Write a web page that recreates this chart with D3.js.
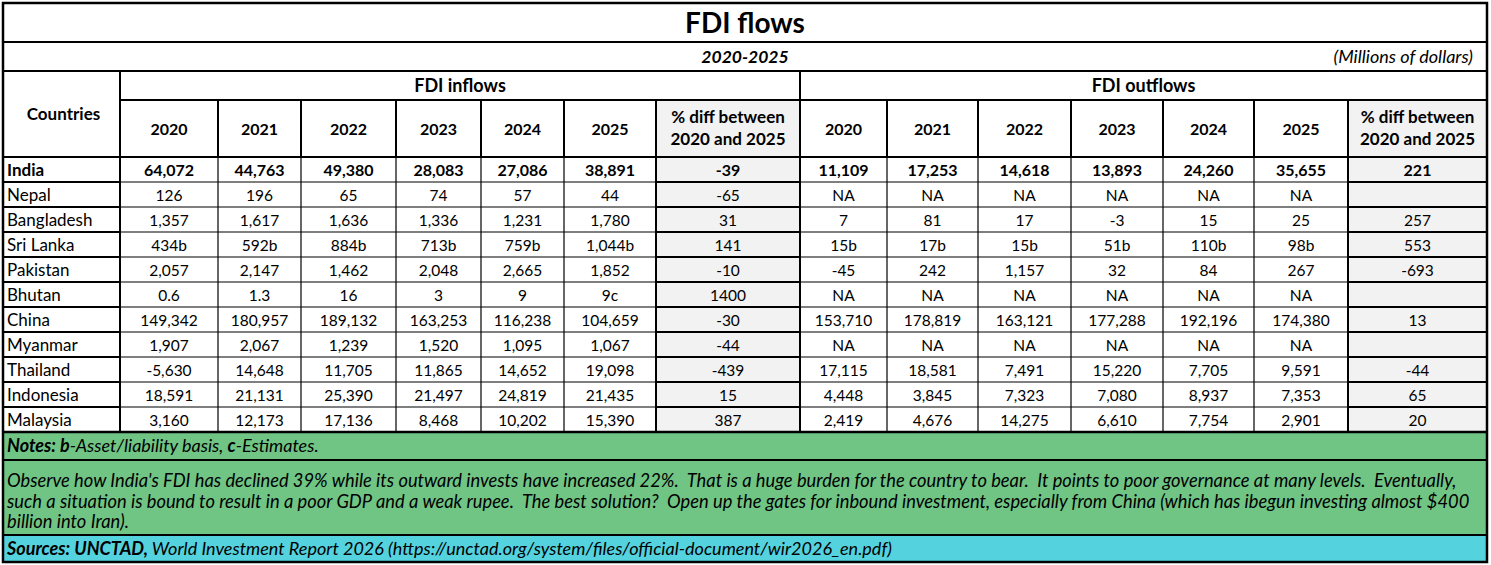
<!DOCTYPE html>
<html>
<head>
<meta charset="utf-8">
<script src="https://cdn.jsdelivr.net/npm/d3@7"></script>
<style>
  body { margin: 0; background: #fff; }
  text { white-space: pre; }
</style>
</head>
<body>
<div id="table"></div>
<script>
// data
const title = "FDI flows"
const period = "2020-2025"
const units = "(Millions of dollars)"
const years = ["2020", "2021", "2022", "2023", "2024", "2025"]
const diffLabel = ["% diff between", "2020 and 2025"]
const countries = ["India", "Nepal", "Bangladesh", "Sri Lanka", "Pakistan", "Bhutan", "China", "Myanmar", "Thailand", "Indonesia", "Malaysia"]

const inflows = [
    ["64,072", "44,763", "49,380", "28,083", "27,086", "38,891"],
    ["126", "196", "65", "74", "57", "44"],
    ["1,357", "1,617", "1,636", "1,336", "1,231", "1,780"],
    ["434b", "592b", "884b", "713b", "759b", "1,044b"],
    ["2,057", "2,147", "1,462", "2,048", "2,665", "1,852"],
    ["0.6", "1.3", "16", "3", "9", "9c"],
    ["149,342", "180,957", "189,132", "163,253", "116,238", "104,659"],
    ["1,907", "2,067", "1,239", "1,520", "1,095", "1,067"],
    ["-5,630", "14,648", "11,705", "11,865", "14,652", "19,098"],
    ["18,591", "21,131", "25,390", "21,497", "24,819", "21,435"],
    ["3,160", "12,173", "17,136", "8,468", "10,202", "15,390"]
]
const inflowDiff = ["-39", "-65", "31", "141", "-10", "1400", "-30", "-44", "-439", "15", "387"]

const outflows = [
    ["11,109", "17,253", "14,618", "13,893", "24,260", "35,655"],
    ["NA", "NA", "NA", "NA", "NA", "NA"],
    ["7", "81", "17", "-3", "15", "25"],
    ["15b", "17b", "15b", "51b", "110b", "98b"],
    ["-45", "242", "1,157", "32", "84", "267"],
    ["NA", "NA", "NA", "NA", "NA", "NA"],
    ["153,710", "178,819", "163,121", "177,288", "192,196", "174,380"],
    ["NA", "NA", "NA", "NA", "NA", "NA"],
    ["17,115", "18,581", "7,491", "15,220", "7,705", "9,591"],
    ["4,448", "3,845", "7,323", "7,080", "8,937", "7,353"],
    ["2,419", "4,676", "14,275", "6,610", "7,754", "2,901"]
]
const outflowDiff = ["221", "", "257", "553", "-693", "", "13", "", "-44", "65", "20"]

const notes = [
    { t: "Notes: b", b: true }, { t: "-Asset/liability basis, " }, { t: "c", b: true }, { t: "-Estimates." }
]
const comment = [
    "Observe how India's FDI has declined 39% while its outward invests have increased 22%.  That is a huge burden for the country to bear.  It points to poor governance at many levels.  Eventually,",
    "such a situation is bound to result in a poor GDP and a weak rupee.  The best solution?  Open up the gates for inbound investment, especially from China (which has ibegun investing almost $400",
    "billion into Iran)."
]
const sources = [
    { t: "Sources: UNCTAD,", b: true }, { t: " World Investment Report 2026 (https://unctad.org/system/files/official-document/wir2026_en.pdf)" }
]

// layout
const W = 1491, H = 565
const font = "Lato, 'Open Sans', sans-serif"
const colWidths = [117, 98, 83, 95, 85, 83, 92, 144, 87, 91, 93, 92, 91, 94, 139]
const colKeys = colWidths.map((d, i) => i)
const edges = [3, ...d3.cumsum(colWidths).map(d => d + 3)]
const x0 = d3.scaleOrdinal().domain(colKeys).range(edges.slice(0, -1))
const x1 = d3.scaleOrdinal().domain(colKeys).range(edges.slice(1))
const xc = k => (x0(k) + x1(k)) / 2
const left = edges[0], right = edges[edges.length - 1]

const rowY = d3.scaleBand().domain(countries).range([157, 432])

const svg = d3.select("#table")
    .append("svg")
    .attr("width", W)
    .attr("height", H)
    .style("font-family", font)

const gray = "#f2f2f2"
const green = "#70c585"
const cyan = "#54d3df"

// fills
svg.append("rect").attr("x", left).attr("y", 3).attr("width", right - left).attr("height", 559).attr("fill", "#fff")
const diffCols = [7, 14]
diffCols.forEach(k => {
    svg.append("rect").attr("x", x0(k)).attr("y", 100).attr("width", x1(k) - x0(k)).attr("height", 332).attr("fill", gray)
})
svg.append("rect").attr("x", left).attr("y", 432).attr("width", right - left).attr("height", 103).attr("fill", green)
svg.append("rect").attr("x", left).attr("y", 535).attr("width", right - left).attr("height", 27).attr("fill", cyan)

// lines
const line = (xa, ya, xb, yb, w) => svg.append("line")
    .attr("x1", xa).attr("y1", ya).attr("x2", xb).attr("y2", yb)
    .attr("stroke", "#000").attr("stroke-width", w)

// data grid, thin
colKeys.slice(1).forEach(k => line(x0(k), 157, x0(k), 432, 1.2))
countries.forEach(c => {
    line(left, rowY(c), right, rowY(c), 1.2)
})
// thicker cell borders in first column and % columns
countries.forEach(c => {
    line(left, rowY(c), x1(0), rowY(c), 2)
    diffCols.forEach(k => line(x0(k), rowY(c), x1(k), rowY(c), 2))
})
// header grid
colKeys.slice(1).forEach(k => line(x0(k), 100, x0(k), 157, 2))
line(x0(7), 100, x0(7), 432, 2)
line(x1(7), 71, x1(7), 432, 2)
line(x0(14), 100, x0(14), 432, 2)
line(x1(0), 71, x1(0), 432, 2)
line(left, 42, right, 42, 2.2)
line(left, 71, right, 71, 2.2)
line(x1(0), 100, right, 100, 2)
line(left, 157, right, 157, 2.2)
line(left, 432, right, 432, 2.4)
line(left, 460, right, 460, 1.8)
line(left, 535, right, 535, 2.2)
svg.append("rect").attr("x", left).attr("y", 3).attr("width", right - left).attr("height", 559)
    .attr("fill", "none").attr("stroke", "#000").attr("stroke-width", 2.5)

// text helper
const txt = (x, y, s, o = {}) => svg.append("text")
    .attr("x", x).attr("y", y)
    .attr("dy", "0.35em")
    .attr("text-anchor", o.anchor || "middle")
    .attr("font-size", o.size || 15.5)
    .attr("font-weight", o.bold ? "bold" : "normal")
    .attr("font-style", o.italic ? "italic" : "normal")
    .attr("fill", "#000")
    .text(s)

txt((left + right) / 2, 23, title, { size: 28, bold: true })
txt((left + right) / 2, 57, period, { size: 17.5, bold: true, italic: true })
txt(right - 14, 57, units, { size: 18, italic: true, anchor: "end" })

txt(xc(0) + 2, 114, "Countries", { bold: true, size: 17 })
txt((x0(1) + x1(7)) / 2, 86, "FDI inflows", { bold: true, size: 18 })
txt((x0(8) + x1(14)) / 2, 86, "FDI outflows", { bold: true, size: 18 })
years.forEach((yr, i) => {
    txt(xc(1 + i), 129, yr, { bold: true, size: 16 })
    txt(xc(8 + i), 129, yr, { bold: true, size: 16 })
})
diffCols.forEach(k => {
    txt(xc(k), 117, diffLabel[0], { bold: true, size: 17 })
    txt(xc(k), 139, diffLabel[1], { bold: true, size: 17 })
})

const band = rowY.bandwidth()
countries.forEach((c, r) => {
    const y = rowY(c) + band / 2 + 1
    const bold = r === 0
    const size = bold ? 16 : 15.5
    txt(left + 4, y, c, { anchor: "start", bold, size: 17 })
    inflows[r].forEach((v, i) => txt(xc(1 + i), y, v, { bold, size }))
    txt(xc(7), y, inflowDiff[r], { bold, size })
    outflows[r].forEach((v, i) => txt(xc(8 + i), y, v, { bold, size }))
    txt(xc(14), y, outflowDiff[r], { bold, size })
})

// notes
const rich = (x, y, parts, size) => {
    const t = svg.append("text").attr("x", x).attr("y", y).attr("dy", "0.35em")
        .attr("font-size", size).attr("font-style", "italic")
    parts.forEach(p => t.append("tspan").attr("font-weight", p.b ? "bold" : "normal").text(p.t))
    return t
}
rich(left + 4, 446, notes, 18)

const cLines = comment.map((s, i) => txt(left + 4, 481 + i * 20.5, s, { anchor: "start", italic: true, size: 16 }))
const longest = d3.max(cLines, t => t.node().getComputedTextLength())
const fit = Math.min(19, 16 * (right - left - 20) / longest)
cLines.forEach(t => t.attr("font-size", fit))

rich(left + 4, 549, sources, 18)
</script>
</body>
</html>
